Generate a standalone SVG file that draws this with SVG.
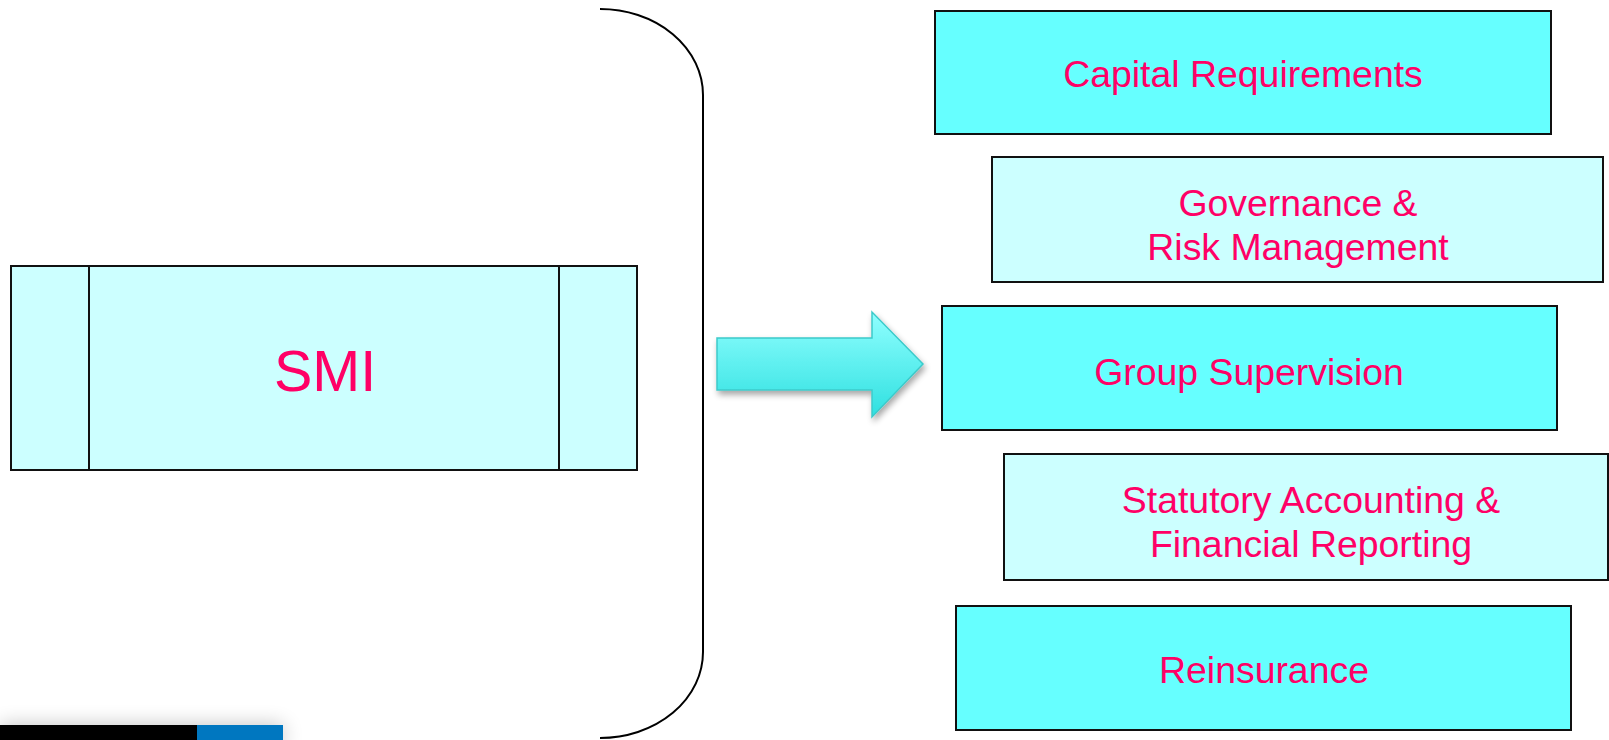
<svg xmlns="http://www.w3.org/2000/svg" width="1609" height="740" viewBox="0 0 1609 740">
<defs>
<style>
.box{stroke:#111;stroke-width:2}
.dark{fill:#66FFFF}
.light{fill:#CCFFFF}
.lbl{font-family:"Liberation Sans",Arial,sans-serif;font-size:37.4px;fill:#FF0066;text-anchor:middle}
</style>
<linearGradient id="ag" x1="0" y1="0" x2="0" y2="1">
<stop offset="0" stop-color="#90FFFF"/>
<stop offset="1" stop-color="#2EE0E0"/>
</linearGradient>
<filter id="sh" x="-20%" y="-20%" width="140%" height="160%">
<feGaussianBlur in="SourceAlpha" stdDeviation="3"/>
<feOffset dx="2" dy="4" result="b"/>
<feComponentTransfer><feFuncA type="linear" slope="0.35"/></feComponentTransfer>
<feMerge><feMergeNode/><feMergeNode in="SourceGraphic"/></feMerge>
</filter>
<filter id="barsh" x="-20%" y="-300%" width="140%" height="500%">
<feGaussianBlur in="SourceAlpha" stdDeviation="10"/>
<feComponentTransfer><feFuncA type="linear" slope="0.25"/></feComponentTransfer>
<feMerge><feMergeNode/><feMergeNode in="SourceGraphic"/></feMerge>
</filter>
</defs>
<rect width="1609" height="740" fill="#fff"/>

<g id="footer-bar" filter="url(#barsh)">
<rect x="0" y="725" width="198" height="20" fill="#000"/>
<rect x="197" y="725" width="86" height="20" fill="#0077C0"/>
</g>

<g id="bracket">
<path d="M600,9 A103,86 0 0 1 703,95 L703,652 A103,86 0 0 1 600,738" fill="none" stroke="#000" stroke-width="2"/>
</g>

<g id="smi">
<rect class="box light" x="11" y="266" width="626" height="204"/>
<line x1="89" y1="266" x2="89" y2="470" stroke="#111" stroke-width="2"/>
<line x1="559" y1="266" x2="559" y2="470" stroke="#111" stroke-width="2"/>
<text class="lbl" x="325" y="391" style="font-size:57.5px">SMI</text>
</g>

<g id="connectors">
<polygon points="717,338 872,338 872,312 923,364 872,417 872,390 717,390" fill="url(#ag)" stroke="#3CCACA" stroke-width="1.5" filter="url(#sh)"/>
</g>

<g id="capital">
<rect class="box dark" x="935" y="11" width="616" height="123"/>
<text class="lbl" x="1243" y="87">Capital Requirements</text>
</g>

<g id="governance">
<rect class="box light" x="992" y="157" width="611" height="125"/>
<text class="lbl" x="1298" y="216">Governance &amp;</text>
<text class="lbl" x="1298" y="260">Risk Management</text>
</g>

<g id="group">
<rect class="box dark" x="942" y="306" width="615" height="124"/>
<text class="lbl" x="1249" y="385">Group Supervision</text>
</g>

<g id="statutory">
<rect class="box light" x="1004" y="454" width="604" height="126"/>
<text class="lbl" x="1311" y="513">Statutory Accounting &amp;</text>
<text class="lbl" x="1311" y="557">Financial Reporting</text>
</g>

<g id="reinsurance">
<rect class="box dark" x="956" y="606" width="615" height="124"/>
<text class="lbl" x="1264" y="683">Reinsurance</text>
</g>
</svg>
